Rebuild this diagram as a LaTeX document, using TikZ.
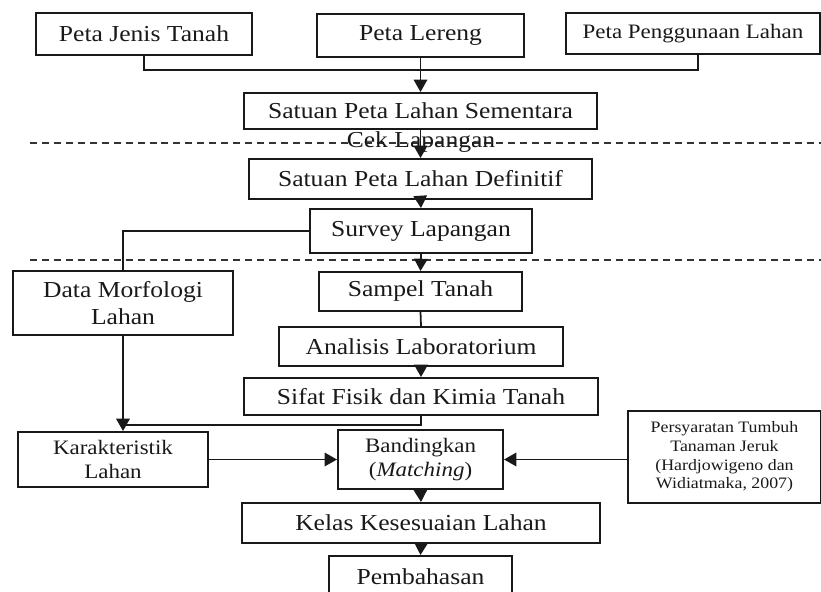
\documentclass[tikz,border=0pt]{standalone}
\usepackage{fontspec}
\setmainfont{Liberation Serif}[FakeStretch=1.12]
\usetikzlibrary{arrows.meta}
\newcommand{\fbig}{\fontsize{19.5}{22.6}\selectfont}
\newcommand{\fmid}{\fontsize{17.5}{20.6}\selectfont}
\newcommand{\fsmall}{\fontsize{13.6}{15.9}\selectfont}
\tikzset{
  block/.style = {draw=black!90, line width=1.7pt, inner sep=0pt, align=center, text=black!90, font=\fbig},
  link/.style = {draw=black!90, line width=1.5pt},
  flow/.style = {link, -{Triangle[width=11.5pt,length=10.5pt]}},
  sep/.style = {draw=black!80, line width=1.2pt, dash pattern=on 6pt off 4.2pt}
}

\begin{document}
\begin{tikzpicture}[x=0.03cm, y=-0.03cm]
\useasboundingbox (0,0) rectangle (821,591);
% peta masukan
\node[block, minimum width=6.48cm, minimum height=1.26cm] (jenis) at (144,34) {Peta Jenis Tanah};
\node[block, minimum width=6.21cm, minimum height=1.29cm] (lereng) at (420.5,35.5) {Peta Lereng};
\node[block, font=\fmid, minimum width=7.62cm, minimum height=1.23cm] (guna) at (693,33.5) {Peta Penggunaan Lahan};
\coordinate (busL) at (144,70);
\coordinate (busR) at (698,70);
\draw[link] (jenis.south) -- (busL) -- (busR) -- (busR |- guna.south);
\node[block, minimum width=10.59cm, minimum height=1.08cm] (sementara) at (420.5,111) {Satuan Peta Lahan Sementara};
\draw[flow] (lereng.south) -- (sementara.north);
% cek lapangan
\coordinate (sepA1) at (30,143);
\coordinate (sepA2) at (821,143);
\draw[sep] (sepA1) -- (sepA2);
\node[block, minimum width=10.29cm, minimum height=1.2cm] (definitif) at (420.5,179) {Satuan Peta Lahan Definitif};
\draw[flow] (sementara.south) -- (definitif.north);
\node[font=\fbig, text=black!90, inner sep=0pt] (cek) at (421,142) {Cek Lapangan};
\node[block, minimum width=6.66cm, minimum height=1.32cm] (survey) at (421,231) {Survey Lapangan};
\draw[flow] (definitif.south) -- (survey.north);
% survey
\coordinate (sepB1) at (30,260);
\coordinate (sepB2) at (821,260);
\draw[sep] (sepB1) -- (sepB2);
\node[block, minimum width=6.6cm, minimum height=1.92cm] (morfologi) at (123,303) {Data Morfologi\\Lahan};
\node[block, minimum width=6.09cm, minimum height=1.17cm] (sampel) at (420.5,291.5) {Sampel Tanah};
\draw[link] (survey.west) -| (morfologi.north);
\draw[flow] (survey.south) -- (sampel.north);
\node[block, minimum width=8.52cm, minimum height=1.17cm] (analisis) at (421,346.5) {Analisis Laboratorium};
\draw[link] (sampel.south) -- (analisis.north);
\node[block, minimum width=10.62cm, minimum height=1.11cm] (sifat) at (421,396.5) {Sifat Fisik dan Kimia Tanah};
\draw[flow] (analisis.south) -- (sifat.north);
% matching
\node[block, font=\fmid, minimum width=5.7cm, minimum height=1.65cm] (karakter) at (113,459.5) {Karakteristik\\Lahan};
\node[block, font=\fmid, minimum width=4.95cm, minimum height=1.77cm] (banding) at (420.5,459.5) {Bandingkan\\(\textit{Matching})};
\node[block, font=\fsmall, minimum width=5.79cm, minimum height=2.76cm] (syarat) at (724.5,457) {Persyaratan Tumbuh\\Tanaman Jeruk\\(Hardjowigeno dan\\Widiatmaka, 2007)};
\coordinate (joinK) at (124,425);
\draw[link] (sifat.south) |- (joinK);
\draw[flow] (morfologi.south) -- (morfologi.south |- karakter.north);
\draw[flow] (karakter.east) -- (banding.west);
\draw[flow] (syarat.west |- banding.east) -- (banding.east);
\node[block, minimum width=10.74cm, minimum height=1.2cm] (kelas) at (421,523) {Kelas Kesesuaian Lahan};
\draw[flow] (banding.south) -- (kelas.north);
\node[block, minimum width=5.49cm, minimum height=1.26cm] (bahas) at (420.5,577) {Pembahasan};
\draw[flow] (kelas.south) -- (bahas.north);
\end{tikzpicture}
\end{document}
